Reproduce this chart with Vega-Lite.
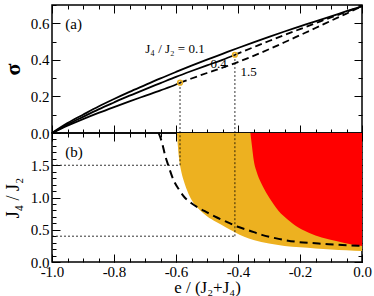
{
  "$schema": "https://vega.github.io/schema/vega-lite/v6.json",
  "autosize": {"type": "pad"},
  "padding": {"left": 0, "top": 1, "right": 0, "bottom": 0},
  "background": "white",
  "spacing": 0,
  "bounds": "flush",
  "config": {
    "font": "Times New Roman",
    "view": {"stroke": "black", "strokeWidth": 1.5},
    "axis": {
      "labelFont": "Times New Roman", "labelFontSize": 15, "labelColor": "black",
      "titleFont": "Times New Roman", "titleColor": "black", "titleFontWeight": "normal",
      "domain": false, "grid": false, "tickColor": "black", "tickWidth": 1,
      "labelFlush": false, "labelOverlap": false
    },
    "text": {"font": "Times New Roman", "color": "black"}
  },
  "datasets": {
    "solid": [
      {"r": "0.1", "e": -1, "s": 0}, {"r": "0.1", "e": -0.95, "s": 0.054}, {"r": "0.1", "e": -0.9, "s": 0.1}, {"r": "0.1", "e": -0.85, "s": 0.145},
      {"r": "0.1", "e": -0.8, "s": 0.186}, {"r": "0.1", "e": -0.75, "s": 0.225}, {"r": "0.1", "e": -0.7, "s": 0.262}, {"r": "0.1", "e": -0.65, "s": 0.299},
      {"r": "0.1", "e": -0.6, "s": 0.334}, {"r": "0.1", "e": -0.55, "s": 0.368}, {"r": "0.1", "e": -0.5, "s": 0.401}, {"r": "0.1", "e": -0.45, "s": 0.433},
      {"r": "0.1", "e": -0.4, "s": 0.465}, {"r": "0.1", "e": -0.35, "s": 0.496}, {"r": "0.1", "e": -0.3, "s": 0.526}, {"r": "0.1", "e": -0.25, "s": 0.555},
      {"r": "0.1", "e": -0.2, "s": 0.583}, {"r": "0.1", "e": -0.15, "s": 0.611}, {"r": "0.1", "e": -0.1, "s": 0.638}, {"r": "0.1", "e": -0.05, "s": 0.666},
      {"r": "0.1", "e": 0, "s": 0.693},
      {"r": "0.4", "e": -1, "s": 0}, {"r": "0.4", "e": -0.95, "s": 0.046}, {"r": "0.4", "e": -0.9, "s": 0.088}, {"r": "0.4", "e": -0.85, "s": 0.129},
      {"r": "0.4", "e": -0.8, "s": 0.167}, {"r": "0.4", "e": -0.75, "s": 0.204}, {"r": "0.4", "e": -0.7, "s": 0.239}, {"r": "0.4", "e": -0.65, "s": 0.273},
      {"r": "0.4", "e": -0.6, "s": 0.307}, {"r": "0.4", "e": -0.55, "s": 0.339}, {"r": "0.4", "e": -0.5, "s": 0.37}, {"r": "0.4", "e": -0.45, "s": 0.4},
      {"r": "0.4", "e": -0.41, "s": 0.428},
      {"r": "1.5", "e": -1, "s": 0}, {"r": "1.5", "e": -0.95, "s": 0.04}, {"r": "1.5", "e": -0.9, "s": 0.076}, {"r": "1.5", "e": -0.85, "s": 0.11},
      {"r": "1.5", "e": -0.8, "s": 0.142}, {"r": "1.5", "e": -0.75, "s": 0.173}, {"r": "1.5", "e": -0.7, "s": 0.203}, {"r": "1.5", "e": -0.65, "s": 0.233},
      {"r": "1.5", "e": -0.6, "s": 0.265}, {"r": "1.5", "e": -0.587, "s": 0.275}
    ],
    "dashed": [
      {"r": "0.4", "e": -0.41, "s": 0.428}, {"r": "0.4", "e": -0.35, "s": 0.469}, {"r": "0.4", "e": -0.3, "s": 0.503}, {"r": "0.4", "e": -0.25, "s": 0.536},
      {"r": "0.4", "e": -0.2, "s": 0.568}, {"r": "0.4", "e": -0.15, "s": 0.6}, {"r": "0.4", "e": -0.1, "s": 0.632}, {"r": "0.4", "e": -0.05, "s": 0.663},
      {"r": "0.4", "e": 0, "s": 0.693},
      {"r": "1.5", "e": -0.587, "s": 0.275}, {"r": "1.5", "e": -0.55, "s": 0.298}, {"r": "1.5", "e": -0.5, "s": 0.328}, {"r": "1.5", "e": -0.45, "s": 0.357},
      {"r": "1.5", "e": -0.4, "s": 0.388}, {"r": "1.5", "e": -0.35, "s": 0.422}, {"r": "1.5", "e": -0.3, "s": 0.458}, {"r": "1.5", "e": -0.25, "s": 0.496},
      {"r": "1.5", "e": -0.2, "s": 0.535}, {"r": "1.5", "e": -0.15, "s": 0.574}, {"r": "1.5", "e": -0.1, "s": 0.614}, {"r": "1.5", "e": -0.05, "s": 0.653},
      {"r": "1.5", "e": 0, "s": 0.693}
    ],
    "pointsA": [{"e": -0.587, "s": 0.275}, {"e": -0.41, "s": 0.428}],
    "rulesA": [{"x": -0.587, "x2": -0.587, "y": 0, "y2": 0.275}, {"x": -0.41, "x2": -0.41, "y": 0, "y2": 0.428}],
    "curveLabels": [
      {"e": -0.699, "s": 0.437, "label": "J₄ / J₂ = 0.1"},
      {"e": -0.489, "s": 0.355, "label": "0.4"},
      {"e": -0.392, "s": 0.31, "label": "1.5"}
    ],
    "panelA": [{"e": -0.957, "s": 0.569, "label": "(a)"}],
    "orange": [
      {"e": -0.597, "j": 2.0}, {"e": -0.594, "j": 1.8}, {"e": -0.59, "j": 1.6}, {"e": -0.585, "j": 1.45}, {"e": -0.575, "j": 1.26},
      {"e": -0.565, "j": 1.12}, {"e": -0.554, "j": 1.0}, {"e": -0.54, "j": 0.89}, {"e": -0.52, "j": 0.79}, {"e": -0.5, "j": 0.71},
      {"e": -0.47, "j": 0.62}, {"e": -0.44, "j": 0.54}, {"e": -0.41, "j": 0.46}, {"e": -0.38, "j": 0.39}, {"e": -0.35, "j": 0.34},
      {"e": -0.3, "j": 0.285}, {"e": -0.25, "j": 0.25}, {"e": -0.2, "j": 0.228}, {"e": -0.15, "j": 0.21}, {"e": -0.1, "j": 0.195},
      {"e": -0.05, "j": 0.182}, {"e": 0, "j": 0.17}
    ],
    "red": [
      {"e": -0.36, "j": 2.0}, {"e": -0.355, "j": 1.8}, {"e": -0.349, "j": 1.57}, {"e": -0.34, "j": 1.4}, {"e": -0.325, "j": 1.22},
      {"e": -0.306, "j": 1.05}, {"e": -0.29, "j": 0.93}, {"e": -0.269, "j": 0.79}, {"e": -0.24, "j": 0.66}, {"e": -0.204, "j": 0.53},
      {"e": -0.17, "j": 0.45}, {"e": -0.13, "j": 0.38}, {"e": -0.08, "j": 0.32}, {"e": -0.033, "j": 0.27}, {"e": 0, "j": 0.25}
    ],
    "boundary": [
      {"e": -0.656, "j": 2.0}, {"e": -0.645, "j": 1.85}, {"e": -0.635, "j": 1.65}, {"e": -0.625, "j": 1.5}, {"e": -0.607, "j": 1.26},
      {"e": -0.59, "j": 1.12}, {"e": -0.572, "j": 1.0}, {"e": -0.55, "j": 0.91}, {"e": -0.527, "j": 0.84}, {"e": -0.5, "j": 0.77},
      {"e": -0.468, "j": 0.69}, {"e": -0.44, "j": 0.63}, {"e": -0.403, "j": 0.55}, {"e": -0.365, "j": 0.49}, {"e": -0.323, "j": 0.42},
      {"e": -0.28, "j": 0.37}, {"e": -0.215, "j": 0.315}, {"e": -0.15, "j": 0.29}, {"e": -0.107, "j": 0.275}, {"e": -0.05, "j": 0.26},
      {"e": 0, "j": 0.25}
    ],
    "rulesB": [
      {"x": -0.587, "x2": -0.587, "y": 1.5, "y2": 2}, {"x": -0.41, "x2": -0.41, "y": 0.4, "y2": 2},
      {"x": -1, "x2": -0.587, "y": 1.5, "y2": 1.5}, {"x": -1, "x2": -0.41, "y": 0.4, "y2": 0.4}
    ],
    "panelB": [{"e": -0.957, "j": 1.635, "label": "(b)"}]
  },
  "vconcat": [
    {
      "width": 310,
      "height": 128,
      "resolve": {"axis": {"x": "independent", "y": "independent"}},
      "layer": [
        {
          "data": {"name": "solid"},
          "mark": {"type": "line", "color": "black", "strokeWidth": 1.8, "interpolate": "monotone"},
          "encoding": {
            "x": {"field": "e", "type": "quantitative", "scale": {"domain": [-1, 0], "nice": false, "zero": false}, "axis": null},
            "y": {"field": "s", "type": "quantitative", "scale": {"domain": [0, 0.7], "nice": false, "zero": false},
              "axis": {"orient": "left", "title": "σ", "values": [0, 0.2, 0.4, 0.6], "format": ".1f", "ticks": false, "labelPadding": 3,
                "titleFontSize": 22, "titleFontWeight": "bold", "titlePadding": 6}},
            "detail": {"field": "r", "type": "nominal"}
          }
        },
        {
          "data": {"name": "dashed"},
          "mark": {"type": "line", "color": "black", "strokeWidth": 1.8, "strokeDash": [7, 4], "interpolate": "monotone"},
          "encoding": {
            "x": {"field": "e", "type": "quantitative", "scale": {"domain": [-1, 0], "nice": false, "zero": false},
              "axis": {"orient": "bottom", "title": null, "labels": false, "values": [-1, -0.8, -0.6, -0.4, -0.2, 0], "tickSize": -8}},
            "y": {"field": "s", "type": "quantitative", "scale": {"domain": [0, 0.7], "nice": false, "zero": false},
              "axis": {"orient": "left", "title": null, "labels": false, "values": [0, 0.2, 0.4, 0.6], "tickSize": -8}},
            "detail": {"field": "r", "type": "nominal"}
          }
        },
        {
          "data": {"name": "rulesA"},
          "mark": {"type": "rule", "color": "black", "strokeWidth": 0.8, "strokeDash": [2, 2]},
          "encoding": {
            "x": {"field": "x", "type": "quantitative", "scale": {"domain": [-1, 0], "nice": false, "zero": false},
              "axis": {"orient": "bottom", "title": null, "labels": false, "values": [-1, -0.95, -0.9, -0.85, -0.8, -0.75, -0.7, -0.65, -0.6, -0.55, -0.5, -0.45, -0.4, -0.35, -0.3, -0.25, -0.2, -0.15, -0.1, -0.05, 0], "tickSize": -4}},
            "x2": {"field": "x2"},
            "y": {"field": "y", "type": "quantitative", "scale": {"domain": [0, 0.7], "nice": false, "zero": false},
              "axis": {"orient": "left", "title": null, "labels": false, "values": [0, 0.1, 0.2, 0.3, 0.4, 0.5, 0.6, 0.7], "tickSize": -4}},
            "y2": {"field": "y2"}
          }
        },
        {
          "data": {"name": "pointsA"},
          "mark": {"type": "point", "shape": "circle", "filled": false, "color": "#EDB120", "strokeWidth": 1.5, "size": 22, "opacity": 1},
          "encoding": {
            "x": {"field": "e", "type": "quantitative", "scale": {"domain": [-1, 0], "nice": false, "zero": false},
              "axis": {"orient": "top", "title": null, "labels": false, "values": [-1, -0.8, -0.6, -0.4, -0.2, 0], "tickSize": -8}},
            "y": {"field": "s", "type": "quantitative", "scale": {"domain": [0, 0.7], "nice": false, "zero": false},
              "axis": {"orient": "right", "title": null, "labels": false, "values": [0, 0.2, 0.4, 0.6], "tickSize": -8}}
          }
        },
        {
          "data": {"name": "curveLabels"},
          "mark": {"type": "text", "align": "left", "baseline": "alphabetic", "fontSize": 13},
          "encoding": {
            "x": {"field": "e", "type": "quantitative", "scale": {"domain": [-1, 0], "nice": false, "zero": false},
              "axis": {"orient": "top", "title": null, "labels": false, "values": [-1, -0.95, -0.9, -0.85, -0.8, -0.75, -0.7, -0.65, -0.6, -0.55, -0.5, -0.45, -0.4, -0.35, -0.3, -0.25, -0.2, -0.15, -0.1, -0.05, 0], "tickSize": -4}},
            "y": {"field": "s", "type": "quantitative", "scale": {"domain": [0, 0.7], "nice": false, "zero": false},
              "axis": {"orient": "right", "title": null, "labels": false, "values": [0, 0.1, 0.2, 0.3, 0.4, 0.5, 0.6, 0.7], "tickSize": -4}},
            "text": {"field": "label", "type": "nominal"}
          }
        },
        {
          "data": {"name": "panelA"},
          "mark": {"type": "text", "align": "left", "baseline": "alphabetic", "fontSize": 15},
          "encoding": {
            "x": {"field": "e", "type": "quantitative", "scale": {"domain": [-1, 0], "nice": false, "zero": false}, "axis": null},
            "y": {"field": "s", "type": "quantitative", "scale": {"domain": [0, 0.7], "nice": false, "zero": false}, "axis": null},
            "text": {"field": "label", "type": "nominal"}
          }
        }
      ]
    },
    {
      "width": 310,
      "height": 129,
      "resolve": {"axis": {"x": "independent", "y": "independent"}},
      "layer": [
        {
          "data": {"name": "orange"},
          "mark": {"type": "area", "color": "#EDB120", "opacity": 1, "interpolate": "monotone"},
          "encoding": {
            "x": {"field": "e", "type": "quantitative", "scale": {"domain": [-1, 0], "nice": false, "zero": false},
              "axis": {"orient": "bottom", "title": "e / (J₂+J₄)", "values": [-1, -0.8, -0.6, -0.4, -0.2, 0], "ticks": false, "labelPadding": 2,
                "labelExpr": "(datum.value < 0 ? '-' : '') + format(abs(datum.value), '.1f')", "titleFontSize": 17, "titlePadding": 0}},
            "y": {"field": "j", "type": "quantitative", "scale": {"domain": [0, 2], "nice": false, "zero": false},
              "axis": {"orient": "left", "title": "J₄ / J₂", "values": [0, 0.5, 1, 1.5], "format": ".1f", "ticks": false, "labelPadding": 3,
                "titleFontSize": 18, "titlePadding": 8}},
            "y2": {"datum": 2}
          }
        },
        {
          "data": {"name": "red"},
          "mark": {"type": "area", "color": "#FF0000", "opacity": 1, "interpolate": "monotone"},
          "encoding": {
            "x": {"field": "e", "type": "quantitative", "scale": {"domain": [-1, 0], "nice": false, "zero": false},
              "axis": {"orient": "bottom", "title": null, "labels": false, "values": [-1, -0.8, -0.6, -0.4, -0.2, 0], "tickSize": -8}},
            "y": {"field": "j", "type": "quantitative", "scale": {"domain": [0, 2], "nice": false, "zero": false},
              "axis": {"orient": "left", "title": null, "labels": false, "values": [0, 0.5, 1, 1.5, 2], "tickSize": -8}},
            "y2": {"datum": 2}
          }
        },
        {
          "data": {"name": "boundary"},
          "mark": {"type": "line", "color": "black", "strokeWidth": 2, "strokeDash": [8, 5], "interpolate": "monotone"},
          "encoding": {
            "x": {"field": "e", "type": "quantitative", "scale": {"domain": [-1, 0], "nice": false, "zero": false},
              "axis": {"orient": "bottom", "title": null, "labels": false, "values": [-1, -0.95, -0.9, -0.85, -0.8, -0.75, -0.7, -0.65, -0.6, -0.55, -0.5, -0.45, -0.4, -0.35, -0.3, -0.25, -0.2, -0.15, -0.1, -0.05, 0], "tickSize": -4}},
            "y": {"field": "j", "type": "quantitative", "scale": {"domain": [0, 2], "nice": false, "zero": false},
              "axis": {"orient": "left", "title": null, "labels": false, "values": [0, 0.1, 0.2, 0.3, 0.4, 0.5, 0.6, 0.7, 0.8, 0.9, 1, 1.1, 1.2, 1.3, 1.4, 1.5, 1.6, 1.7, 1.8, 1.9, 2], "tickSize": -4}}
          }
        },
        {
          "data": {"name": "rulesB"},
          "mark": {"type": "rule", "color": "black", "strokeWidth": 0.8, "strokeDash": [2, 2]},
          "encoding": {
            "x": {"field": "x", "type": "quantitative", "scale": {"domain": [-1, 0], "nice": false, "zero": false},
              "axis": {"orient": "top", "title": null, "labels": false, "values": [-1, -0.8, -0.6, -0.4, -0.2, 0], "tickSize": -8}},
            "x2": {"field": "x2"},
            "y": {"field": "y", "type": "quantitative", "scale": {"domain": [0, 2], "nice": false, "zero": false},
              "axis": {"orient": "right", "title": null, "labels": false, "values": [0, 0.5, 1, 1.5, 2], "tickSize": -8}},
            "y2": {"field": "y2"}
          }
        },
        {
          "data": {"name": "panelB"},
          "mark": {"type": "text", "align": "left", "baseline": "alphabetic", "fontSize": 15},
          "encoding": {
            "x": {"field": "e", "type": "quantitative", "scale": {"domain": [-1, 0], "nice": false, "zero": false},
              "axis": {"orient": "top", "title": null, "labels": false, "values": [-1, -0.95, -0.9, -0.85, -0.8, -0.75, -0.7, -0.65, -0.6, -0.55, -0.5, -0.45, -0.4, -0.35, -0.3, -0.25, -0.2, -0.15, -0.1, -0.05, 0], "tickSize": -4}},
            "y": {"field": "j", "type": "quantitative", "scale": {"domain": [0, 2], "nice": false, "zero": false},
              "axis": {"orient": "right", "title": null, "labels": false, "values": [0, 0.1, 0.2, 0.3, 0.4, 0.5, 0.6, 0.7, 0.8, 0.9, 1, 1.1, 1.2, 1.3, 1.4, 1.5, 1.6, 1.7, 1.8, 1.9, 2], "tickSize": -4}},
            "text": {"field": "label", "type": "nominal"}
          }
        }
      ]
    }
  ]
}
